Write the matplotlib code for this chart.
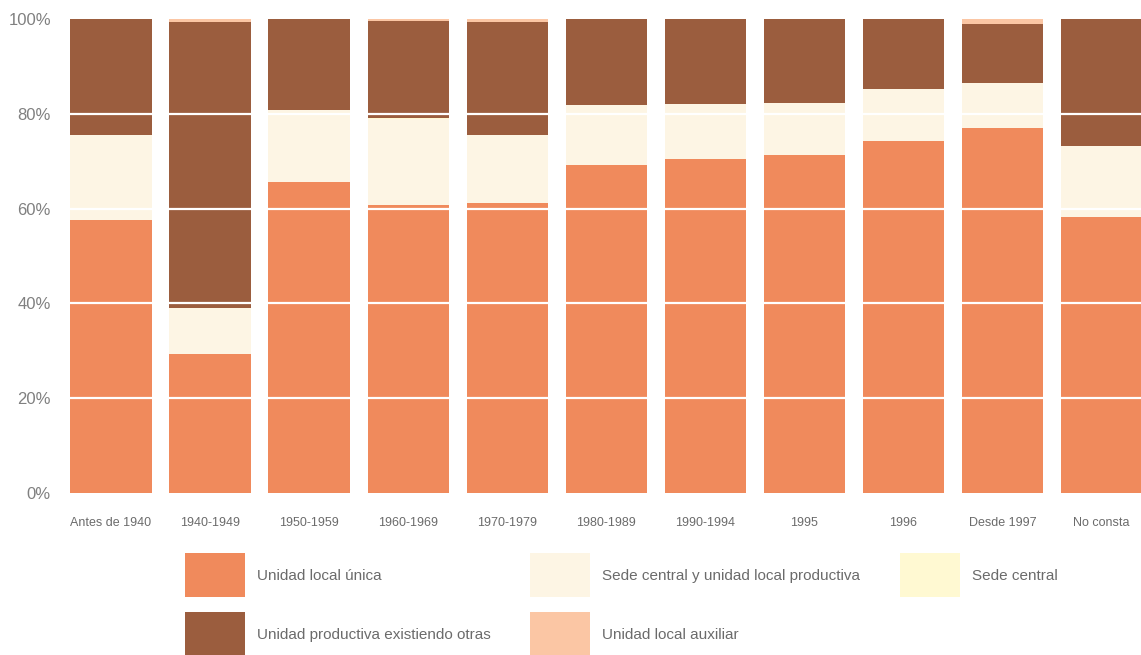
import numpy as np
import matplotlib.pyplot as plt
from matplotlib.patches import Rectangle

categories = ['Antes de 1940', '1940-1949', '1950-1959', '1960-1969', '1970-1979',
              '1980-1989', '1990-1994', '1995', '1996', 'Desde 1997', 'No consta']

unica = [57.6, 29.3, 65.6, 60.8, 61.2, 69.2, 70.5, 71.3, 74.3, 77.0, 58.2]
sede_y_productiva = [17.9, 9.7, 15.2, 18.0, 14.3, 12.7, 11.6, 11.0, 10.9, 9.5, 15.0]
sede_central = [0.0, 0.0, 0.0, 0.3, 0.0, 0.0, 0.0, 0.0, 0.0, 0.0, 0.0]
productiva_otras = [24.5, 60.4, 19.2, 20.5, 23.9, 18.1, 17.9, 17.7, 14.8, 12.4, 26.8]
auxiliar = [0.0, 0.6, 0.0, 0.4, 0.6, 0.0, 0.0, 0.0, 0.0, 1.1, 0.0]

series = [
    ('Unidad local única', unica, '#F08A5C'),
    ('Sede central y unidad local productiva', sede_y_productiva, '#FDF5E4'),
    ('Sede central', sede_central, '#FFF9D2'),
    ('Unidad productiva existiendo otras', productiva_otras, '#9B5D3E'),
    ('Unidad local auxiliar', auxiliar, '#FBC6A4'),
]

font = ['Liberation Sans', 'DejaVu Sans']
grey = '#6b6b6b'

fig = plt.figure(figsize=(11.41, 6.55), dpi=100)
ax = fig.add_axes([62 / 1141, 162 / 655, 1 - 62 / 1141, (655 - 19 - 162) / 655])

x = np.arange(len(categories))
bottom = np.zeros(len(categories))
for name, vals, col in series:
    ax.bar(x, vals, width=0.82, bottom=bottom, color=col, zorder=2)
    bottom += np.array(vals)

for g in [20, 40, 60, 80]:
    ax.axhline(g, color='white', lw=1.6, zorder=3)

ax.set_xlim(-0.495, 10.40)
ax.set_ylim(0, 100)
ax.set_yticks([0, 20, 40, 60, 80, 100])
ax.set_yticklabels(['0%', '20%', '40%', '60%', '80%', '100%'], family=font,
                   color='#808080', fontsize=12)
ax.set_xticks(x)
ax.set_xticklabels(categories, family=font, fontsize=9, color=grey)
ax.tick_params(axis='both', length=0)
ax.tick_params(axis='x', pad=17)
ax.tick_params(axis='y', pad=8)
for s in ax.spines.values():
    s.set_visible(False)

# legend, laid out by hand like the original
legend_pos = [
    (185, 553, 0), (530, 553, 1), (900, 553, 2),
    (185, 612, 3), (530, 612, 4),
]
for (px, py, i) in legend_pos:
    name, vals, col = series[i]
    fig.add_artist(Rectangle((px / 1141, 1 - (py + 44) / 655), 60 / 1141, 44 / 655,
                             transform=fig.transFigure, color=col, lw=0))
    fig.text((px + 72) / 1141, 1 - (py + 23) / 655, name, family=font,
             fontsize=11, color=grey, va='center', ha='left')

fig.savefig('out.png', dpi=100)
